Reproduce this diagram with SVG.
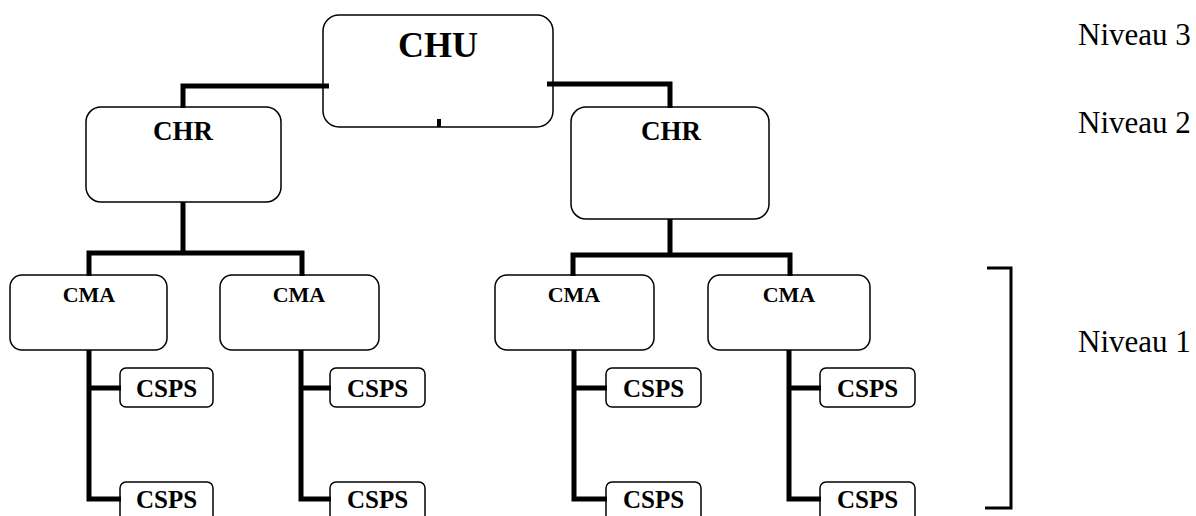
<svg xmlns="http://www.w3.org/2000/svg" width="1196" height="516" viewBox="0 0 1196 516">
<style>
.box{fill:#fff;stroke:#000;stroke-width:1.5}
.lbl{font-family:"Liberation Serif","Times New Roman",serif;font-weight:bold;fill:#000;text-anchor:middle}
.lvl{font-family:"Liberation Serif","Times New Roman",serif;fill:#000;font-size:31px}
.conn{fill:none;stroke:#000;stroke-width:5;stroke-linejoin:miter;stroke-linecap:butt}
</style>
<rect width="1196" height="516" fill="#fff"/>
<g id="chu">
<rect class="box" x="323" y="15" width="230" height="112" rx="16"/>
<text class="lbl" x="438" y="57" font-size="36">CHU</text>
</g>
<g id="chr-left">
<rect class="box" x="86" y="107" width="195" height="95" rx="15"/>
<text class="lbl" x="183" y="140" font-size="27">CHR</text>
</g>
<g id="chr-right">
<rect class="box" x="571" y="107" width="198" height="112" rx="15"/>
<text class="lbl" x="671" y="140" font-size="27">CHR</text>
</g>
<g id="cma1">
<rect class="box" x="10" y="275" width="157" height="75" rx="12"/>
<text class="lbl" x="89" y="302" font-size="22">CMA</text>
</g>
<g id="cma2">
<rect class="box" x="220" y="275" width="159" height="75" rx="12"/>
<text class="lbl" x="299" y="302" font-size="22">CMA</text>
</g>
<g id="cma3">
<rect class="box" x="495" y="275" width="159" height="75" rx="12"/>
<text class="lbl" x="574" y="302" font-size="22">CMA</text>
</g>
<g id="cma4">
<rect class="box" x="708" y="275" width="162" height="75" rx="12"/>
<text class="lbl" x="789" y="302" font-size="22">CMA</text>
</g>
<g id="csps1a"><rect class="box" x="120" y="368" width="93" height="39" rx="6"/><text class="lbl" x="166.5" y="397" font-size="25">CSPS</text></g>
<g id="csps1b"><rect class="box" x="120" y="482" width="93" height="42" rx="6"/><text class="lbl" x="166.5" y="508" font-size="25">CSPS</text></g>
<g id="csps2a"><rect class="box" x="330" y="368" width="95" height="39" rx="6"/><text class="lbl" x="377.5" y="397" font-size="25">CSPS</text></g>
<g id="csps2b"><rect class="box" x="330" y="482" width="95" height="42" rx="6"/><text class="lbl" x="377.5" y="508" font-size="25">CSPS</text></g>
<g id="csps3a"><rect class="box" x="606" y="368" width="95" height="39" rx="6"/><text class="lbl" x="653.5" y="397" font-size="25">CSPS</text></g>
<g id="csps3b"><rect class="box" x="606" y="482" width="95" height="42" rx="6"/><text class="lbl" x="653.5" y="508" font-size="25">CSPS</text></g>
<g id="csps4a"><rect class="box" x="820" y="368" width="95" height="39" rx="6"/><text class="lbl" x="867.5" y="397" font-size="25">CSPS</text></g>
<g id="csps4b"><rect class="box" x="820" y="482" width="95" height="42" rx="6"/><text class="lbl" x="867.5" y="508" font-size="25">CSPS</text></g>
<g id="connectors">
<path class="conn" d="M329,86 H183 V108"/>
<path class="conn" d="M547,84 H670 V108"/>
<path class="conn" d="M183,202 V253"/>
<path class="conn" d="M89,276 V253 H302 V276"/>
<path class="conn" d="M670,219 V255"/>
<path class="conn" d="M573,276 V255 H790 V276"/>
<path class="conn" d="M89,350 V499 H121 M89,388 H121"/>
<path class="conn" d="M301,350 V499 H331 M301,388 H331"/>
<path class="conn" d="M574,350 V499 H607 M574,388 H607"/>
<path class="conn" d="M789,350 V499 H821 M789,388 H821"/>
<rect x="437" y="119" width="4" height="8" fill="#000"/>
</g>
<g id="levels">
<path d="M987,268 H1011 V508 H985" fill="none" stroke="#000" stroke-width="3"/>
<text class="lvl" x="1078" y="45">Niveau 3</text>
<text class="lvl" x="1078" y="133">Niveau 2</text>
<text class="lvl" x="1078" y="352">Niveau 1</text>
</g>
</svg>
